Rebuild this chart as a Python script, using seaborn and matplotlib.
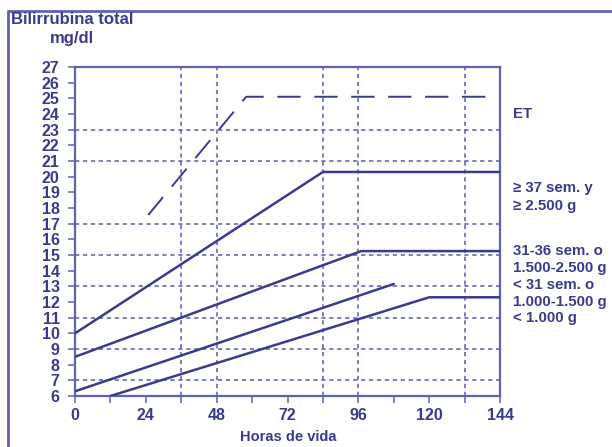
import matplotlib
matplotlib.use("Agg")
import matplotlib.pyplot as plt
import seaborn as sns
from matplotlib.lines import Line2D

# --- DATA ---
hours_37 = [0, 84, 144]
bili_37 = [10.0, 20.3, 20.3]

hours_31_36 = [0, 97, 144]
bili_31_36 = [8.5, 15.25, 15.25]

hours_lt31 = [0, 108]
bili_lt31 = [6.3, 13.15]

hours_lt1000 = [12, 120, 144]
bili_lt1000 = [6.0, 12.3, 12.3]

hours_et = [24.8, 58, 141]
bili_et = [17.55, 25.1, 25.1]

grid_hours = [36, 48, 84, 96, 132]
grid_bili = [7, 9, 11, 13, 15, 17, 21, 23]

x_ticks = [0, 12, 24, 36, 48, 60, 72, 84, 96, 108, 120, 132, 144]
x_labels = ["0", "", "24", "", "48", "", "72", "", "96", "", "120", "", "144"]
y_ticks = list(range(6, 28))

right_labels = [
    ("ET", 24.0),
    ("≥ 37 sem. y", 19.25),
    ("≥ 2.500 g", 18.15),
    ("31-36 sem. o", 15.25),
    ("1.500-2.500 g", 14.17),
    ("< 31 sem. o", 13.1),
    ("1.000-1.500 g", 12.03),
    ("< 1.000 g", 10.98),
]

# --- THEME ---
sns.set_theme(style="white")
plt.rcParams["font.family"] = ["Liberation Sans", "DejaVu Sans"]

navy = "#3b3b8e"
frame = "#6262b4"
gridc = "#5a5ab2"

fig = plt.figure(figsize=(6.12, 4.47), dpi=100)
ax = fig.add_axes([75 / 612, 1 - 396 / 447, 425 / 612, 329 / 447])

for gx in grid_hours:
    ax.axvline(gx, color=gridc, lw=1.1, ls=(0, (2.8, 2.4)), zorder=1)
for gy in grid_bili:
    ax.axhline(gy, color=gridc, lw=1.1, ls=(0, (2.8, 2.4)), zorder=1)

for hx, by in [(hours_37, bili_37), (hours_31_36, bili_31_36),
               (hours_lt31, bili_lt31), (hours_lt1000, bili_lt1000)]:
    sns.lineplot(x=hx, y=by, ax=ax, color=navy, lw=1.8, sort=False,
                 estimator=None, zorder=3)

sns.lineplot(x=hours_et, y=bili_et, ax=ax, color=navy, lw=1.4, sort=False,
             estimator=None, zorder=3)
ax.lines[-1].set_linestyle((0, (12, 7)))

ax.set_xlim(0, 144)
ax.set_ylim(6, 27)
ax.set_xticks(x_ticks)
ax.set_xticklabels(x_labels)
ax.set_yticks(y_ticks)
ax.tick_params(axis="both", direction="out", length=5, width=1.1,
               color=frame, labelcolor=navy, labelsize=11.5,
               bottom=True, left=True)
ax.tick_params(axis="y", pad=6)
ax.tick_params(axis="x", pad=4)
for lab in ax.get_xticklabels() + ax.get_yticklabels():
    lab.set_fontweight("bold")
for s in ax.spines.values():
    s.set_color(frame)
    s.set_linewidth(1.6)
ax.set_xlabel("")
ax.set_ylabel("")

fig.text(288 / 612, 1 - 437 / 447, "Horas de vida", ha="center", va="center",
         color=navy, fontsize=10.5, fontweight="bold")
fig.text(72 / 612, 1 - 19 / 447, "Bilirrubina total", ha="center", va="center",
         color=navy, fontsize=12, fontweight="bold")
fig.text(72 / 612, 1 - 39 / 447, "mg/dl", ha="center", va="center",
         color=navy, fontsize=12, fontweight="bold")

for txt, yv in right_labels:
    ax.text(148.3, yv, txt, ha="left", va="center", color=navy,
            fontsize=10.8, fontweight="bold", clip_on=False)

# outer border (top and left edges only)
fig.add_artist(Line2D([8 / 612, 8 / 612], [0, 1 - 10.5 / 447],
                      transform=fig.transFigure, color=frame, lw=2))
fig.add_artist(Line2D([8 / 612, 1], [1 - 10.5 / 447, 1 - 10.5 / 447],
                      transform=fig.transFigure, color=frame, lw=2))

fig.savefig("out.png", dpi=100)
